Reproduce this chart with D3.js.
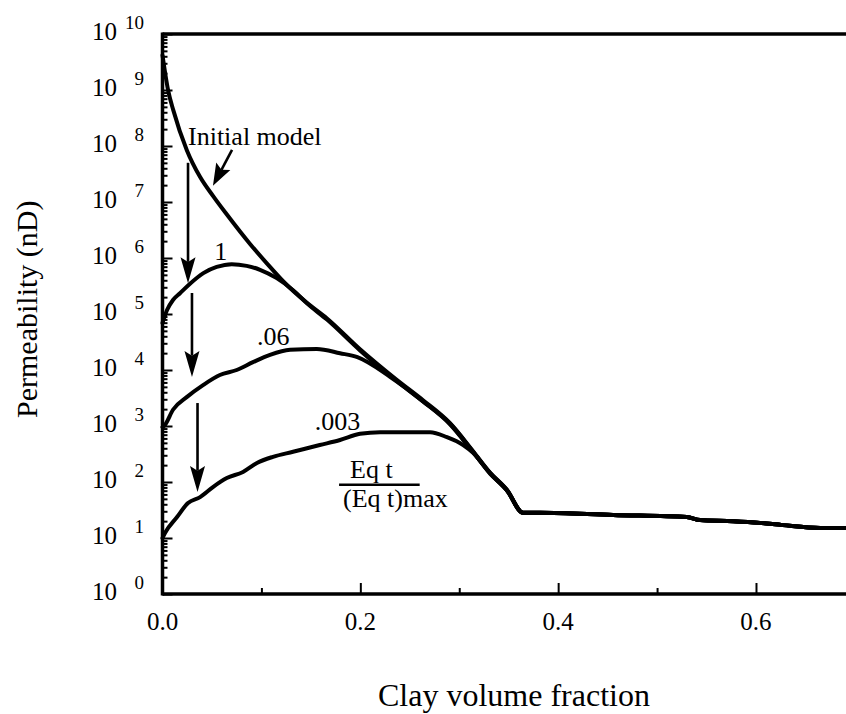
<!DOCTYPE html>
<html>
<head>
<meta charset="utf-8">
<script src="https://cdn.jsdelivr.net/npm/d3@7"></script>
<style>
  body { margin: 0; background: #fff; }
  svg { display: block; }
  text { font-family: "Liberation Serif", "Times New Roman", serif; fill: #000; }
</style>
</head>
<body>
<svg id="chart" width="846" height="714"></svg>
<script>
// Clay volume fraction (x) against log10 of permeability in nD (y)
const initialX    = [0, 0.0056, 0.0109, 0.0245, 0.0379, 0.0514, 0.0649, 0.0885, 0.1057, 0.1222, 0.146, 0.1663, 0.1997, 0.2371, 0.2634, 0.2907, 0.314, 0.3311, 0.3483, 0.3645, 0.3817, 0.4555, 0.530, 0.5435, 0.577, 0.604, 0.627, 0.665, 0.691];
const initialLogK = [9.62, 9.0, 8.64, 7.93, 7.45, 7.10, 6.78, 6.25, 5.90, 5.58, 5.20, 4.92, 4.37, 3.82, 3.46, 3.05, 2.55, 2.17, 1.86, 1.45, 1.45, 1.41, 1.375, 1.32, 1.30, 1.27, 1.23, 1.18, 1.18];

const ratio1X    = [0, 0.0046, 0.0106, 0.0177, 0.0278, 0.0413, 0.0548, 0.070, 0.0851, 0.0986, 0.1155, 0.1323, 0.146, 0.1663, 0.1997, 0.2371, 0.2634, 0.2907, 0.314, 0.3311, 0.3483, 0.3645, 0.3817, 0.4555, 0.530, 0.5435, 0.577, 0.604, 0.627, 0.665, 0.691];
const ratio1LogK = [4.84, 5.07, 5.25, 5.37, 5.54, 5.73, 5.84, 5.89, 5.86, 5.79, 5.64, 5.42, 5.19, 4.90, 4.35, 3.80, 3.44, 3.04, 2.54, 2.16, 1.85, 1.45, 1.45, 1.41, 1.375, 1.32, 1.30, 1.27, 1.23, 1.18, 1.18];

const ratio06X    = [0, 0.0025, 0.0106, 0.0248, 0.041, 0.058, 0.075, 0.0915, 0.1087, 0.129, 0.156, 0.1795, 0.197, 0.230, 0.2634, 0.2907, 0.314, 0.3311, 0.3483, 0.3645, 0.3817, 0.4555, 0.530, 0.5435, 0.577, 0.604, 0.627, 0.665, 0.691];
const ratio06LogK = [2.98, 3.02, 3.29, 3.52, 3.73, 3.91, 4.00, 4.14, 4.27, 4.36, 4.375, 4.30, 4.23, 3.88, 3.44, 3.03, 2.53, 2.16, 1.85, 1.45, 1.45, 1.41, 1.375, 1.32, 1.30, 1.27, 1.23, 1.18, 1.18];

const ratio003X    = [0, 0.0025, 0.0147, 0.0258, 0.038, 0.051, 0.065, 0.0814, 0.0955, 0.1117, 0.132, 0.159, 0.1795, 0.1997, 0.220, 0.2705, 0.2876, 0.304, 0.314, 0.3311, 0.3483, 0.3645, 0.3817, 0.4555, 0.530, 0.5435, 0.577, 0.604, 0.627, 0.665, 0.691];
const ratio003LogK = [1.00, 1.09, 1.375, 1.625, 1.73, 1.91, 2.07, 2.18, 2.34, 2.45, 2.54, 2.66, 2.75, 2.86, 2.89, 2.89, 2.80, 2.66, 2.52, 2.15, 1.85, 1.45, 1.45, 1.41, 1.375, 1.32, 1.30, 1.27, 1.23, 1.18, 1.18];

// Axis ticks
const yDecades    = [0, 1, 2, 3, 4, 5, 6, 7, 8, 9, 10];
const xMajorTicks = [0.2, 0.4, 0.6];
const xMinorTicks = [0.1, 0.3, 0.5];
const xTickLabels = ["0.0", "0.2", "0.4", "0.6"];
const xLabelValues = [0, 0.2, 0.4, 0.6];

// Curve labels, placed in data units [x, log10 k]
const curveLabels = [
  { text: "Initial model", x: 0.0258, e: 8.02, anchor: "start" },
  { text: "1",             x: 0.0590, e: 5.96, anchor: "middle" },
  { text: ".06",           x: 0.0955, e: 4.45, anchor: "start" },
  { text: ".003",          x: 0.1540, e: 2.93, anchor: "start" }
];
// Downward arrows between successive curves: [x, from e, to e]
const stepArrows = [
  [0.0258, 7.70, 5.55],
  [0.0298, 5.375, 3.875],
  [0.0354, 3.41, 1.82]
];

(function draw() {
  const svg = d3.select("#chart");
  svg.append("rect").attr("width", 846).attr("height", 714).attr("fill", "#fff");

  const mLeft = 162.5, mRight = 846, mTop = 34, mBottom = 594;
  const x = d3.scaleLinear().domain([0, 0.691]).range([mLeft, mRight]);
  const y = d3.scaleLog().domain([1, 1e10]).range([mBottom, mTop]);
  const ye = e => y(Math.pow(10, e));

  // Minor and major ticks of the log axis, pointing into the plot
  const minorVals = [];
  yDecades.slice(0, -1).forEach(d => { for (let m = 2; m <= 9; m++) minorVals.push(m * Math.pow(10, d)); });

  const yMinor = svg.append("g").attr("transform", `translate(${mLeft},0)`)
    .call(d3.axisRight(y).tickValues(minorVals).tickSize(5).tickFormat(""));
  const yMajor = svg.append("g").attr("transform", `translate(${mLeft},0)`)
    .call(d3.axisRight(y).tickValues(yDecades.map(d => Math.pow(10, d))).tickSize(10).tickFormat(""));
  const xMinor = svg.append("g").attr("transform", `translate(0,${mBottom})`)
    .call(d3.axisTop(x).tickValues(xMinorTicks).tickSize(6).tickFormat(""));
  const xMajor = svg.append("g").attr("transform", `translate(0,${mBottom})`)
    .call(d3.axisTop(x).tickValues(xMajorTicks).tickSize(11).tickFormat(""));
  [yMinor, yMajor, xMinor, xMajor].forEach(g => {
    g.select(".domain").remove();
    g.selectAll(".tick line").attr("stroke", "#000").attr("stroke-width", 2);
  });

  // Frame: left axis, bottom axis and top border
  const frame = svg.append("g").attr("stroke", "#000").attr("stroke-width", 3.5).attr("fill", "none");
  frame.append("line").attr("x1", mLeft).attr("x2", mLeft).attr("y1", mTop - 1.5).attr("y2", mBottom + 1.5);
  frame.append("line").attr("x1", mLeft).attr("x2", mRight).attr("y1", mBottom).attr("y2", mBottom);
  frame.append("line").attr("x1", mLeft).attr("x2", mRight).attr("y1", mTop).attr("y2", mTop);

  // Y tick labels: 10 with superscript exponent
  const yl = svg.append("g");
  yDecades.forEach(d => {
    const py = ye(d);
    yl.append("text").attr("x", 117).attr("y", py + 6).attr("text-anchor", "end")
      .attr("font-size", 25).text("10");
    yl.append("text").attr("x", 144).attr("y", py - 5).attr("text-anchor", "end")
      .attr("font-size", 19).text(d);
  });

  // X tick labels
  xLabelValues.forEach((v, i) => {
    svg.append("text").attr("x", x(v)).attr("y", 630).attr("text-anchor", "middle")
      .attr("font-size", 25).text(xTickLabels[i]);
  });

  // Axis titles
  svg.append("text").attr("x", 378).attr("y", 706).attr("font-size", 32).text("Clay volume fraction");
  svg.append("text").attr("transform", "translate(37,418) rotate(-90)")
    .attr("font-size", 30).text("Permeability (nD)");

  // Curves
  const line = d3.line()
    .x(d => x(d[0]))
    .y(d => ye(d[1]))
    .curve(d3.curveMonotoneX);

  const series = [
    [initialX, initialLogK],
    [ratio1X, ratio1LogK],
    [ratio06X, ratio06LogK],
    [ratio003X, ratio003LogK]
  ];
  svg.append("g").selectAll("path").data(series).join("path")
    .attr("d", s => line(d3.zip(s[0], s[1])))
    .attr("fill", "none").attr("stroke", "#000").attr("stroke-width", 4)
    .attr("stroke-linejoin", "round").attr("stroke-linecap", "round");

  // Labels on curves
  curveLabels.forEach(l => {
    svg.append("text").attr("x", x(l.x)).attr("y", ye(l.e))
      .attr("text-anchor", l.anchor).attr("font-size", 26).text(l.text);
  });

  // Arrow: shaft from (x1,y1) to tip (x2,y2) with a filled head
  function arrow(x1, y1, x2, y2, len, half) {
    const ang = Math.atan2(y2 - y1, x2 - x1);
    const ux = Math.cos(ang), uy = Math.sin(ang);
    const bx = x2 - ux * len, by = y2 - uy * len;
    const nx = x2 - ux * len * 0.82, ny = y2 - uy * len * 0.82;
    svg.append("line").attr("x1", x1).attr("y1", y1).attr("x2", nx).attr("y2", ny)
      .attr("stroke", "#000").attr("stroke-width", 2.6);
    const pts = [
      [x2, y2],
      [bx - uy * half, by + ux * half],
      [nx, ny],
      [bx + uy * half, by - ux * half]
    ];
    svg.append("path").attr("d", "M" + pts.map(p => p.join(",")).join("L") + "Z").attr("fill", "#000");
  }

  stepArrows.forEach(a => arrow(x(a[0]), ye(a[1]), x(a[0]), ye(a[2]), 26, 7.5));
  // Pointer from the "Initial model" label to its curve
  arrow(x(0.0703), ye(7.93), x(0.051), ye(7.29), 22, 8);

  // Ratio legend: Eq t over (Eq t)max
  svg.append("text").attr("x", x(0.1896)).attr("y", ye(2.07)).attr("font-size", 26).text("Eq t");
  svg.append("line").attr("x1", x(0.1785)).attr("x2", x(0.260))
    .attr("y1", ye(1.95)).attr("y2", ye(1.95))
    .attr("stroke", "#000").attr("stroke-width", 2.6);
  svg.append("text").attr("x", x(0.1825)).attr("y", ye(1.55)).attr("font-size", 26).text("(Eq t)max");
})();
</script>
</body>
</html>
